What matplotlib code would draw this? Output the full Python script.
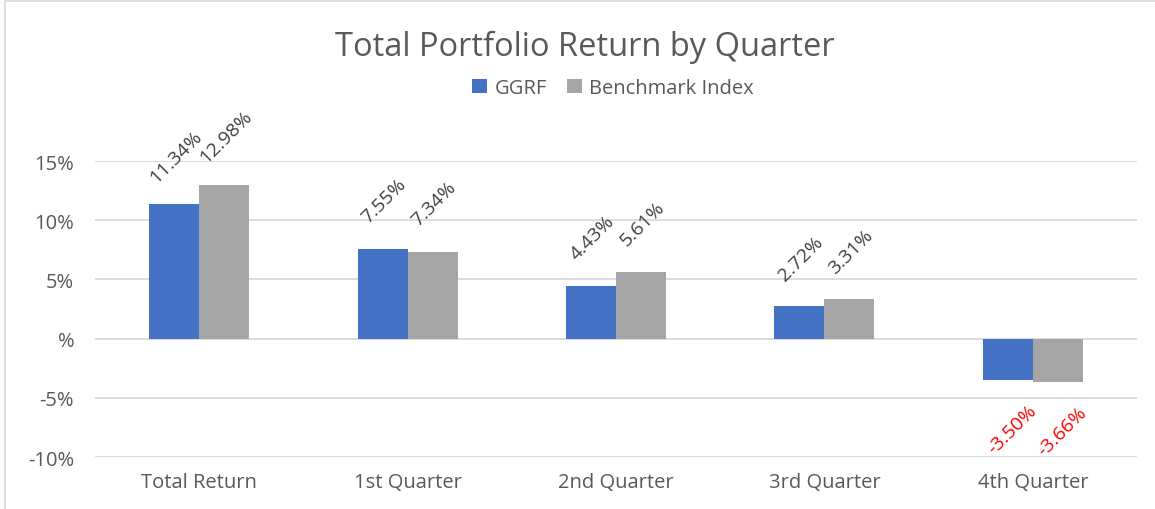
import matplotlib
matplotlib.use("Agg")
import matplotlib.pyplot as plt
import numpy as np
from matplotlib.patches import Rectangle

categories = ["Total Return", "1st Quarter", "2nd Quarter", "3rd Quarter", "4th Quarter"]
ggrf = [11.34, 7.55, 4.43, 2.72, -3.50]
benchmark = [12.98, 7.34, 5.61, 3.31, -3.66]
series_names = ["GGRF", "Benchmark Index"]
yticks = [-10, -5, 0, 5, 10, 15]
ytick_labels = ["-10%", "-5%", "%", "5%", "10%", "15%"]

W, H = 1155, 510
fig = plt.figure(figsize=(W / 100, H / 100), dpi=100)
plt.rcParams['font.family'] = ['Open Sans', 'DejaVu Sans']

text_color = "#595959"
label_color = "#404040"
grid_color = "#d9d9d9"
colors = ["#4472c4", "#a5a5a5"]

# axes placement in pixels
left, right = 95, 1137
top, bottom = 162, 458
ax = fig.add_axes([left / W, 1 - bottom / H, (right - left) / W, (bottom - top) / H])

x = np.arange(len(categories))
bw = 0.24
b1 = ax.bar(x - bw / 2, ggrf, bw, color=colors[0], label=series_names[0], zorder=3)
b2 = ax.bar(x + bw / 2, benchmark, bw, color=colors[1], label=series_names[1], zorder=3)

ax.set_xlim(-0.5, len(categories) - 0.5)
ax.set_ylim(-10, 15)
ax.set_yticks(yticks)
ax.set_yticklabels(ytick_labels)
ax.set_xticks(x)
ax.set_xticklabels(categories)
ax.tick_params(axis='both', length=0, labelsize=14.5, colors=text_color)
ax.tick_params(axis='y', pad=15)
ax.tick_params(axis='x', pad=11)
for s in ax.spines.values():
    s.set_visible(False)
ax.grid(axis='y', color=grid_color, linewidth=1.3, zorder=0)
ax.set_axisbelow(True)

for bars, vals in ((b1, ggrf), (b2, benchmark)):
    for rect, v in zip(bars, vals):
        cx = rect.get_x() + rect.get_width() / 2
        if v >= 0:
            ax.annotate(f"{v:.2f}%", (cx, v), xytext=(1, 35), textcoords='offset points',
                        ha='center', va='center', rotation=45, fontsize=14,
                        color=label_color, annotation_clip=False)
        else:
            ax.annotate(f"{v:.2f}%", (cx, v), xytext=(3, -35), textcoords='offset points',
                        ha='center', va='center', rotation=45, fontsize=14,
                        color="#ff0000", annotation_clip=False)

fig.text(585 / W, 1 - 47 / H, "Total Portfolio Return by Quarter", ha='center', va='center',
         fontsize=23.5, color=text_color)

leg = fig.legend(handles=[b1, b2], labels=series_names, loc='center', bbox_to_anchor=(613 / W, 1 - 89 / H),
                 ncol=2, frameon=False, fontsize=14.5, handlelength=0.75, handleheight=0.75,
                 handletextpad=0.35, columnspacing=1.0)
for t in leg.get_texts():
    t.set_color(text_color)

fig.patches.append(Rectangle((5 / W, -0.01), 1.0, 1 - 2 / H + 0.01, transform=fig.transFigure,
                             fill=False, edgecolor="#d9d9d9", linewidth=1.2))

fig.savefig("out.png", dpi=100)
